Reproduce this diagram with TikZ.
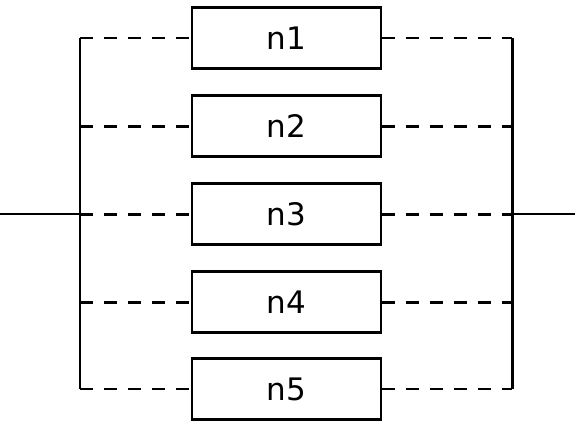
\documentclass[tikz,border=0pt]{standalone}
\usepackage{fontspec}
\setmainfont{DejaVu Sans}
\usepackage{tikz}
\usetikzlibrary{calc}
\tikzset{ unit_box/.style = {rectangle, draw, line width=2.6pt, minimum width=189pt, minimum height=61pt, inner sep=0pt, font=\fontsize{31}{31}\selectfont} }
\tikzset{ bus/.style = {line width=2.2pt} }
\tikzset{ thin_link/.style = {line width=2pt, dash pattern=on 13pt off 11pt} }
\tikzset{ thick_link/.style = {line width=3pt, dash pattern=on 13pt off 11pt} }

\begin{document}
\begin{tikzpicture}[x=1pt, y=-1pt]
    \useasboundingbox (0,0) rectangle (575,423);
    \node[unit_box] (n1) at (286.5,38)  {n1};
    \node[unit_box] (n2) at (286.5,126) {n2};
    \node[unit_box] (n3) at (286.5,214) {n3};
    \node[unit_box] (n4) at (286.5,302) {n4};
    \node[unit_box] (n5) at (286.5,389) {n5};
    \coordinate (L1) at (80,38);
    \coordinate (L3) at (80,214);
    \coordinate (L5) at (80,389);
    \coordinate (R1) at (512,38);
    \coordinate (R3) at (512,214);
    \coordinate (R5) at (512,389);
    \coordinate (in)  at (0,214);
    \coordinate (out) at (575,214);
    \draw[bus] (L1) -- (L5);
    \draw[bus, line width=3pt] (R1) -- (R5);
    \draw[bus] (in) -- (L3);
    \draw[bus] (R3) -- (out);
    \draw[thin_link]  (L1) -- (n1.west);
    \draw[thin_link]  (n1.east) -- (R1);
    \draw[thick_link] (n2.west -| L1) -- (n2.west);
    \draw[thick_link] (n2.east) -- (n2.east -| R1);
    \draw[thick_link] (L3) -- (n3.west);
    \draw[thick_link] (n3.east) -- (R3);
    \draw[thick_link] (n4.west -| L1) -- (n4.west);
    \draw[thick_link] (n4.east) -- (n4.east -| R1);
    \draw[thin_link]  (L5) -- (n5.west);
    \draw[thin_link]  (n5.east) -- (R5);
\end{tikzpicture}
\end{document}
